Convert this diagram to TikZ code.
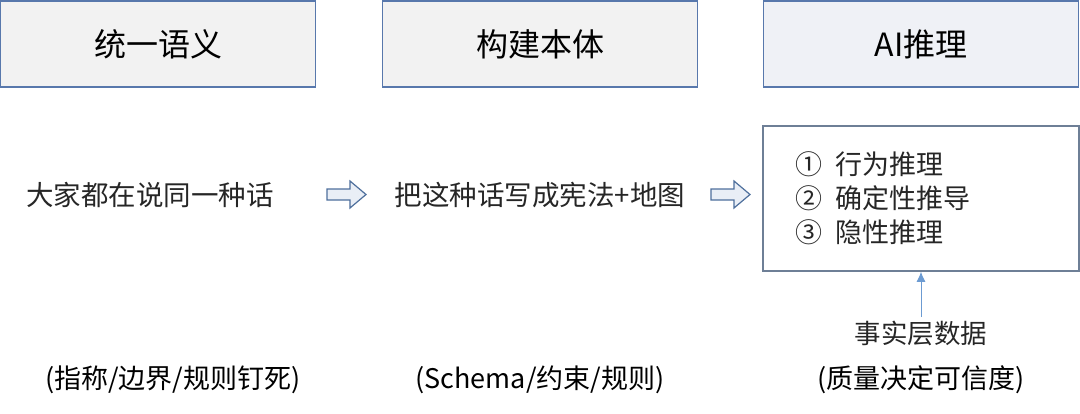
\documentclass[tikz,border=0pt]{standalone}
\usepackage{fontspec}
\setmainfont{Noto Sans CJK SC}
\usetikzlibrary{arrows.meta}
\definecolor{hdrline}{HTML}{5878AC}
\definecolor{hdrfill}{HTML}{F2F2F2}
\definecolor{aifill}{HTML}{EFF1F6}
\definecolor{boxline}{HTML}{6E7F96}
\definecolor{arrline}{HTML}{4E6F9C}
\definecolor{arrfill}{HTML}{E9EEF6}
\definecolor{upline}{HTML}{6C9BD2}
\tikzset{
  header/.style={draw=hdrline, line width=1.5pt, fill=hdrfill, minimum width=315pt, minimum height=86pt, font=\fontsize{32}{38}\selectfont},
  midtext/.style={font=\fontsize{27.5}{33}\selectfont, text=black!85},
  subtext/.style={font=\fontsize{27}{32}\selectfont},
  reasonbox/.style={draw=boxline, line width=1.5pt, minimum height=145pt, text width=252pt, inner xsep=32pt, align=left, font=\fontsize{27}{34}\selectfont, text=black!85},
  blockarrow/.style={draw=arrline, line width=1.2pt, fill=arrfill, line join=miter}
}

\begin{document}
\begin{tikzpicture}[x=1pt, y=-1pt]
  \useasboundingbox (0,0) rectangle (1080,413);
  % top row
  \node[header] (unify) at (158,44) {统一语义};
  \node[header] (onto) at (540,44) {构建本体};
  \node[header, fill=aifill] (ai) at (921,44) {AI推理};
  % middle row
  \node[midtext] (talk) at (150,195) {大家都在说同一种话};
  \node[midtext] (law) at (540,195) {把这种话写成宪法+地图};
  \node[reasonbox] (reason) at (921,198.5) {①\hspace{0.5em}行为推理\\②\hspace{0.5em}确定性推导\\③\hspace{0.5em}隐性推理};
  \foreach \ax in {327,711}
    \draw[blockarrow] (\ax,189) -- (\ax+23,189) -- (\ax+23,181) -- (\ax+39,194.5) -- (\ax+23,208) -- (\ax+23,200) -- (\ax,200) -- cycle;
  % bottom row
  \node[font=\fontsize{26.5}{32}\selectfont, text=black!85] (fact) at (921,333) {事实层数据};
  \draw[upline, line width=1pt, -{Latex[length=10pt,width=9pt]}] (fact) -- (reason);
  \node[subtext] (pin) at (173,380) {(指称/边界/规则钉死)};
  \node[subtext] (schema) at (540,380) {(Schema/约束/规则)};
  \node[subtext] (trust) at (921,380) {(质量决定可信度)};
\end{tikzpicture}
\end{document}
